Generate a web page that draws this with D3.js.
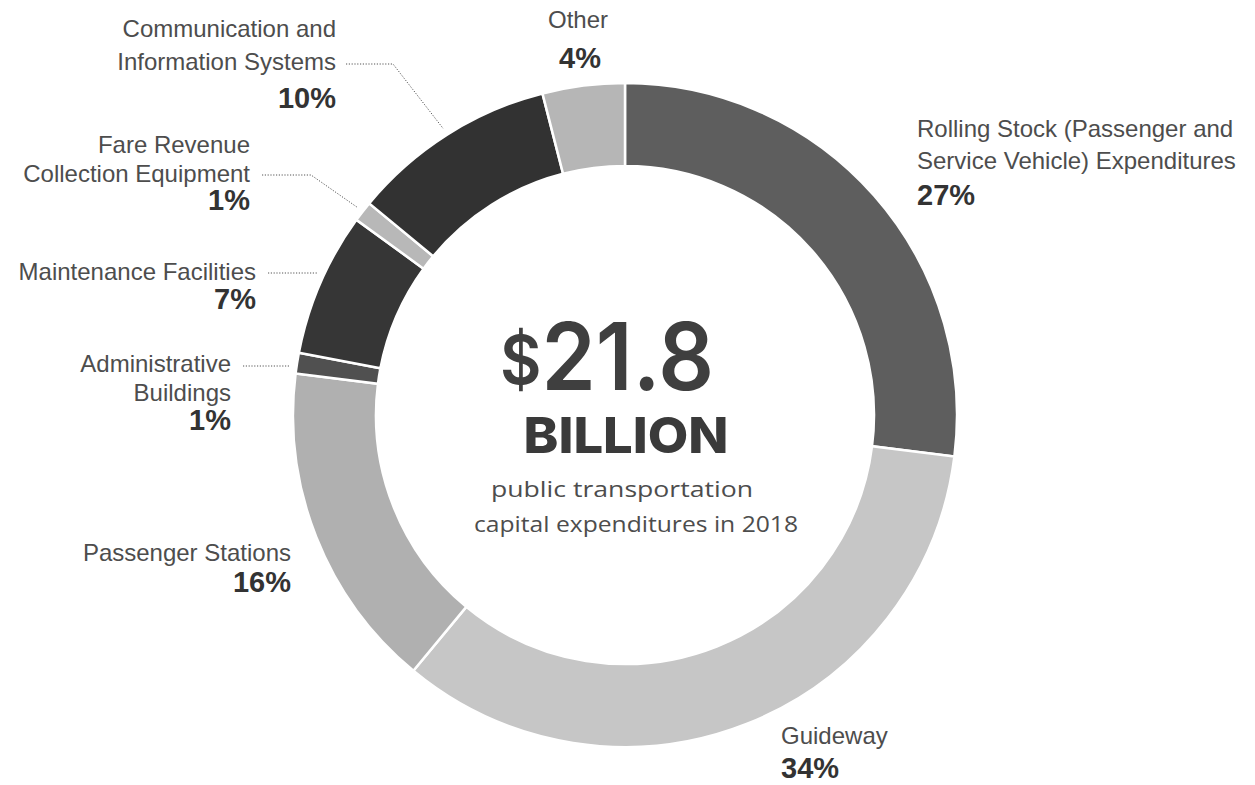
<!DOCTYPE html>
<html>
<head>
<meta charset="utf-8">
<script src="https://cdn.jsdelivr.net/npm/d3@7"></script>
<style>
  html, body { margin: 0; padding: 0; background: #fff; }
  svg { display: block; }
</style>
</head>
<body>
<script>
// ---------- data ----------
const categories = [
  "Rolling Stock (Passenger and Service Vehicle) Expenditures",
  "Guideway",
  "Passenger Stations",
  "Administrative Buildings",
  "Maintenance Facilities",
  "Fare Revenue Collection Equipment",
  "Communication and Information Systems",
  "Other"
];
const shares = [27, 34, 16, 1, 7, 1, 10, 4];
const labelLines = [
  ["Rolling Stock (Passenger and", "Service Vehicle) Expenditures"],
  ["Guideway"],
  ["Passenger Stations"],
  ["Administrative", "Buildings"],
  ["Maintenance Facilities"],
  ["Fare Revenue", "Collection Equipment"],
  ["Communication and", "Information Systems"],
  ["Other"]
];
const totalValue = "21.8";
const totalUnit = "BILLION";
const subtitleLines = ["public transportation", "capital expenditures in 2018"];

// ---------- style / layout ----------
const W = 1255, H = 785;
const cx = 625, cy = 415, rOuter = 332, rInner = 249;
const fills = ["#5e5e5e", "#c6c6c6", "#b0b0b0", "#505050", "#363636", "#b8b8b8", "#323232", "#b6b6b6"];

// label layout: anchor, x, baselines of name lines, baseline of percent
const labelLayout = [
  { anchor: "start",  x: 917, lines: [137, 169], pct: 205 },
  { anchor: "start",  x: 781, lines: [744],      pct: 778 },
  { anchor: "end",    x: 291, lines: [561],      pct: 592 },
  { anchor: "end",    x: 231, lines: [372, 401], pct: 430 },
  { anchor: "end",    x: 256, lines: [280],      pct: 309 },
  { anchor: "end",    x: 250, lines: [153, 182], pct: 210 },
  { anchor: "end",    x: 336, lines: [37, 70],   pct: 108 },
  { anchor: "middle", x: 578, lines: [28],       pct: 68 }
];
// leader lines: start point, optional knee x ; null = no leader
const leaderLayout = [
  null, null, null,
  { x0: 243, y: 366, type: "h" },
  { x0: 268, y: 273, type: "h" },
  { x0: 262, y: 175, knee: 311, type: "k" },
  { x0: 346, y: 64,  knee: 393, type: "k" },
  null
];

const svg = d3.select("body").append("svg")
  .attr("width", W).attr("height", H)
  .attr("viewBox", `0 0 ${W} ${H}`);

const pie = d3.pie().sort(null).value(d => d).startAngle(0).endAngle(2 * Math.PI);
const arcs = pie(shares);
const arc = d3.arc().innerRadius(rInner).outerRadius(rOuter);

const g = svg.append("g").attr("transform", `translate(${cx},${cy})`);
g.selectAll("path.slice")
  .data(arcs)
  .join("path")
  .attr("class", "slice")
  .attr("d", arc)
  .attr("fill", (d, i) => fills[i])
  .attr("stroke", "#fff")
  .attr("stroke-width", 2.5)
  .attr("stroke-linejoin", "miter");

// ---------- leader lines ----------
const rLead = 339;
arcs.forEach((a, i) => {
  const L = leaderLayout[i];
  if (!L) return;
  let pts;
  if (L.type === "h") {
    const dy = L.y - cy;
    const xe = cx - Math.sqrt(rLead * rLead - dy * dy);
    pts = [[L.x0, L.y], [xe, L.y]];
  } else {
    const mid = (a.startAngle + a.endAngle) / 2;
    const xe = cx + rLead * Math.sin(mid);
    const ye = cy - rLead * Math.cos(mid);
    pts = [[L.x0, L.y], [L.knee, L.y], [xe, ye]];
  }
  svg.append("path")
    .attr("d", d3.line()(pts))
    .attr("fill", "none")
    .attr("stroke", "#555")
    .attr("stroke-width", 1)
    .attr("stroke-dasharray", "1.2,1.6");
});

// ---------- labels ----------
const fmtPct = d => d3.format(".0f")(d) + "%";
labelLayout.forEach((L, i) => {
  const t = svg.append("g");
  labelLines[i].forEach((line, j) => {
    t.append("text")
      .attr("x", L.x).attr("y", L.lines[j])
      .attr("text-anchor", L.anchor)
      .attr("font-family", "'Liberation Sans', Arial, sans-serif")
      .attr("font-size", 24)
      .attr("fill", "#4d4d4d")
      .text(line);
  });
  t.append("text")
    .attr("x", L.anchor === "middle" ? L.x + 2 : L.x).attr("y", L.pct)
    .attr("text-anchor", L.anchor)
    .attr("font-family", "'Liberation Sans', Arial, sans-serif")
    .attr("font-weight", "bold")
    .attr("font-size", 29)
    .attr("fill", "#333")
    .text(fmtPct(shares[i]));
});

// ---------- centre text ----------
const big = svg.append("text")
  .attr("x", 607).attr("y", 390)
  .attr("text-anchor", "middle")
  .attr("font-family", "Inter, 'Noto Sans', sans-serif")
  .attr("font-weight", 600)
  .attr("fill", "#3f3f3f")
  .attr("textLength", 214)
  .attr("lengthAdjust", "spacingAndGlyphs");
big.append("tspan").attr("font-size", 68).attr("dy", -6).text("$");
big.append("tspan").attr("font-size", 93).attr("dy", 6).text(totalValue);

svg.append("text")
  .attr("x", 626).attr("y", 453)
  .attr("text-anchor", "middle")
  .attr("font-family", "Inter, 'DejaVu Sans', sans-serif")
  .attr("font-weight", 800)
  .attr("font-size", 50)
  .attr("fill", "#3a3a3a")
  .attr("textLength", 205)
  .attr("lengthAdjust", "spacingAndGlyphs")
  .text(totalUnit);

const subW = [262, 324];
subtitleLines.forEach((s, j) => {
  svg.append("text")
    .attr("x", j === 0 ? 622 : 636).attr("y", 497 + j * 35)
    .attr("text-anchor", "middle")
    .attr("font-family", "'Open Sans', 'Noto Sans', sans-serif")
    .attr("font-size", 22)
    .attr("fill", "#4d4d4d")
    .attr("textLength", subW[j])
    .attr("lengthAdjust", "spacingAndGlyphs")
    .text(s);
});
</script>
</body>
</html>
